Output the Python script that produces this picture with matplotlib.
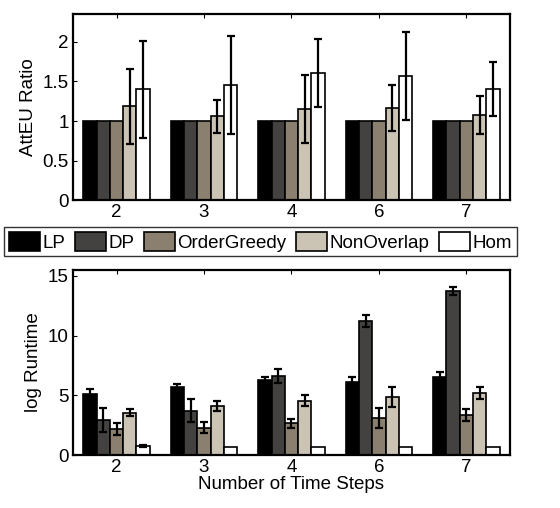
"""
AttEU ratio and log runtime per method, grouped by number of time steps
"""
import numpy as np
import matplotlib
matplotlib.use("Agg")
import matplotlib.pyplot as plt
from matplotlib.patches import Patch

plt.rcParams['font.family'] = ['Liberation Sans', 'DejaVu Sans']

steps = ["2", "3", "4", "6", "7"]
methods = ["LP", "DP", "OrderGreedy", "NonOverlap", "Hom"]
colors = ["#000000", "#434240", "#8b8070", "#cbc3b4", "#ffffff"]

# AttEU ratio (rows = methods, cols = time steps)
ratio = [
    [1.0, 1.0, 1.0, 1.0, 1.0],
    [1.0, 1.0, 1.0, 1.0, 1.0],
    [1.0, 1.0, 1.0, 1.0, 1.0],
    [1.185, 1.06, 1.15, 1.17, 1.08],
    [1.40, 1.46, 1.61, 1.57, 1.40],
]
ratio_err = [
    [0, 0, 0, 0, 0],
    [0, 0, 0, 0, 0],
    [0, 0, 0, 0, 0],
    [0.47, 0.21, 0.43, 0.29, 0.24],
    [0.61, 0.62, 0.43, 0.56, 0.34],
]

# log runtime
runtime = [
    [5.1, 5.73, 6.29, 6.14, 6.54],
    [2.95, 3.72, 6.62, 11.23, 13.75],
    [2.15, 2.29, 2.66, 3.07, 3.35],
    [3.55, 4.11, 4.55, 4.89, 5.22],
    [0.78, 0.70, 0.70, 0.67, 0.70],
]
runtime_err = [
    [0.4, 0.2, 0.27, 0.42, 0.44],
    [1.0, 0.97, 0.56, 0.5, 0.33],
    [0.5, 0.45, 0.36, 0.84, 0.48],
    [0.3, 0.42, 0.48, 0.84, 0.5],
    [0.08, 0.0, 0.0, 0.0, 0.0],
]

FS = 13.5
x = np.arange(1, len(steps) + 1)
width = 0.152
offsets = (np.arange(len(methods)) - 2) * width


def draw_bars(ax, vals, errs, ylim, yticks, yticklabels, ylabel):
    for i in range(len(methods)):
        ax.bar(x + offsets[i], vals[i], width, color=colors[i],
               edgecolor="black", linewidth=1.2, zorder=2)
        e = np.array(errs[i])
        mask = e > 0
        if mask.any():
            ax.errorbar((x + offsets[i])[mask], np.array(vals[i])[mask], yerr=e[mask],
                        fmt="none", ecolor="black", elinewidth=1.6, capsize=3,
                        capthick=1.6, zorder=3)
    ax.set_xlim(0.5, 5.5)
    ax.set_ylim(*ylim)
    ax.set_xticks(x)
    ax.set_xticklabels(steps)
    ax.set_yticks(yticks)
    ax.set_yticklabels(yticklabels)
    ax.tick_params(direction="in", length=3, width=0.8, labelsize=FS,
                   top=True, right=False, pad=3)
    ax.set_ylabel(ylabel, fontsize=FS, labelpad=4)
    for s in ax.spines.values():
        s.set_linewidth(1.6)


fig = plt.figure(figsize=(5.6, 5.08), dpi=100)
ax1 = fig.add_axes([0.130, 0.606, 0.781, 0.366])
ax2 = fig.add_axes([0.130, 0.104, 0.781, 0.365])

draw_bars(ax1, ratio, ratio_err, (0, 2.35), [0, 0.5, 1, 1.5, 2],
          ["0", "0.5", "1", "1.5", "2"], "AttEU Ratio")
draw_bars(ax2, runtime, runtime_err, (0, 15.5), [0, 5, 10, 15],
          ["0", "5", "10", "15"], "log Runtime")
ax2.set_xlabel("Number of Time Steps", fontsize=FS, labelpad=0)

handles = [Patch(facecolor=c, edgecolor="black", linewidth=1.2) for c in colors]
leg = fig.legend(handles, methods, ncol=5, loc="center",
                 bbox_to_anchor=(0.465, 0.524), fontsize=FS, frameon=True,
                 fancybox=False, edgecolor="black", handlelength=1.65,
                 handleheight=1.15, handletextpad=0.15, columnspacing=0.5,
                 borderpad=0.25, borderaxespad=0)
leg.get_frame().set_linewidth(1.0)

fig.savefig("out.png", dpi=100)
